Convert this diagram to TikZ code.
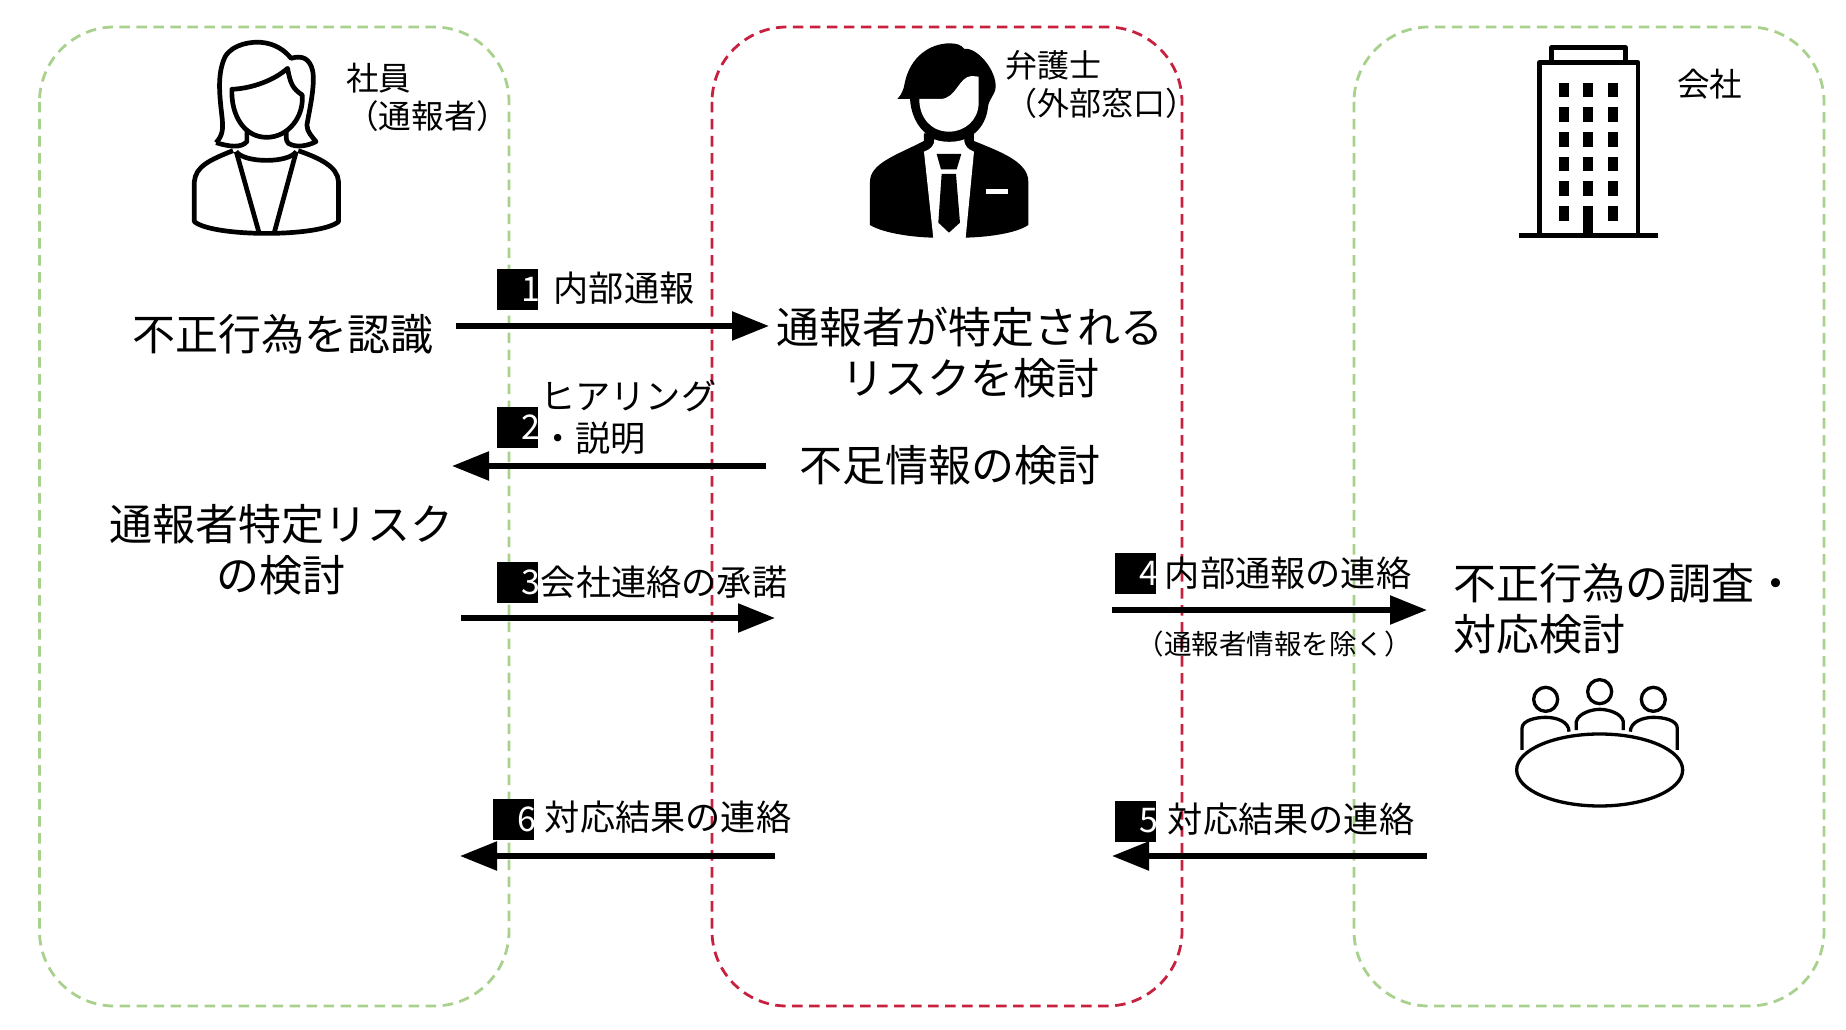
\documentclass[tikz,border=0pt]{standalone}
\usepackage{fontspec}
\setmainfont{Noto Sans CJK JP}
\usetikzlibrary{arrows.meta,positioning}
\definecolor{lanegreen}{HTML}{A9D18E}
\definecolor{lanered}{HTML}{C8203F}

\begin{document}
\begin{tikzpicture}[x=1pt,y=-1pt]

  \tikzstyle{lane} = [line width=2.8pt,dash pattern=on 10.5pt off 6.5pt,rounded corners=75pt]
  \tikzstyle{bigtxt} = [inner sep=0,align=center,font=\fontsize{43}{51}\selectfont]
  \tikzstyle{midtxt} = [inner sep=0,align=center,font=\fontsize{35.2}{42}\selectfont]
  \tikzstyle{whotxt} = [inner sep=0,anchor=west,align=left,font=\fontsize{32.6}{38}\selectfont]
  \tikzstyle{tagbox} = [fill=black,text=white,minimum width=41,minimum height=41,inner sep=0,text width=41pt,align=right,font=\fontsize{34}{40}\selectfont]
  \tikzstyle{flow} = [line width=5.5pt,-{Triangle[length=37pt,width=28pt]}]
  \tikzstyle{icon} = [line width=4.7pt,line join=round]

  \useasboundingbox (0,0) rectangle (1846,1030);

  \draw[lane,lanegreen] (39.5,27) rectangle (509,1006);
  \draw[lane,lanered] (712,27) rectangle (1182,1006);
  \draw[lane,lanegreen] (1354,27) rectangle (1824,1006);

  % woman
  \begin{scope}[x=0.395pt,y=-0.3333pt,icon]
    \draw (547,428) .. controls (565,405) and (565,385) .. (562,350) .. controls (555,280) and (550,220) .. (570,170) .. controls (590,130) and (640,125) .. (660,127) .. controls (695,130) and (720,150) .. (737,175) .. controls (765,165) and (785,175) .. (792,215) .. controls (797,260) and (785,320) .. (777,375) .. controls (777,395) and (790,410) .. (800,425) .. controls (780,437) and (750,445) .. (730,430) .. controls (722,420) and (725,405) .. (725,395);
    \draw (547,428) .. controls (580,440) and (610,445) .. (625,425) -- (625,393);
    \draw (587,268) .. controls (640,265) and (695,240) .. (728,205) .. controls (735,250) and (740,265) .. (765,285) .. controls (770,350) and (730,412) .. (675,412) .. controls (620,412) and (585,350) .. (587,268) -- cycle;
    \draw (590,452) .. controls (530,480) and (495,500) .. (492,545) -- (492,665) .. controls (540,712) and (810,712) .. (857,665) -- (857,545) .. controls (855,500) and (810,475) .. (755,452);
    \draw (598,455) .. controls (620,490) and (730,490) .. (750,455);
    \draw (598,455) -- (655,695);
    \draw (750,455) -- (695,695);
  \end{scope}

  % lawyer
  \begin{scope}[shift={(700,0)},x=0.3333pt,y=-0.3333pt]
    \fill (510,545) .. controls (510,490) and (590,465) .. (672,423) -- (672,400) -- (822,400) -- (822,423) .. controls (900,455) and (985,485) .. (985,545) -- (985,675) .. controls (950,700) and (860,712) .. (795,713) -- (700,713) .. controls (640,712) and (550,700) .. (510,675) -- cycle;
    \fill (592,297) .. controls (605,285) and (612,265) .. (614,250) .. controls (630,170) and (690,130) .. (750,130) .. controls (770,130) and (785,135) .. (793,147) .. controls (830,140) and (890,210) .. (887,262) .. controls (885,285) and (868,295) .. (864,320) .. controls (860,370) and (825,425) .. (747,425) .. controls (680,425) and (635,370) .. (630,297) -- cycle;
    \fill[white] (658,297) -- (720,297) .. controls (770,297) and (775,230) .. (815,228) -- (836,230) -- (836,310) .. controls (835,360) and (795,395) .. (747,395) .. controls (695,395) and (658,355) .. (658,297) -- cycle;
    \fill[white] (703,418) .. controls (725,428) and (770,428) .. (793,418) .. controls (793,440) and (805,448) .. (822,455) -- (797,714) -- (700,714) -- (672,455) .. controls (690,448) and (703,440) .. (703,418) -- cycle;
    \fill (710,462) -- (784,462) -- (770,508) -- (723,508) -- cycle;
    \fill (725,522) -- (768,522) -- (780,668) -- (747,698) -- (715,668) -- cycle;
    \fill[white] (858,566) rectangle (925,582);
  \end{scope}

  % building
  \begin{scope}[shift={(1340,0)},x=0.3333pt,y=-0.3333pt,icon]
    \draw (634,188) -- (634,143) -- (857,143) -- (857,188);
    \draw (598,706) -- (598,188) -- (894,188) -- (894,706);
    \draw (538,706) -- (953,706);
    \foreach \wx in {672,745,819} {
      \foreach \wy in {270,344,418,492,566,640} {
        \fill (\wx-15,\wy-22) rectangle (\wx+15,\wy+22);
      }
    }
    \fill (730,640) rectangle (760,706);
  \end{scope}

  % meeting
  \begin{scope}[shift={(1480,660)},x=0.3333pt,y=-0.3333pt,line width=3.3pt]
    \draw (197,118) circle [radius=12pt];
    \draw (359,95) circle [radius=12pt];
    \draw (520,118) circle [radius=12pt];
    \draw (126,270) -- (126,205) .. controls (126,180) and (170,172) .. (197,172) .. controls (230,172) and (267,185) .. (267,215);
    \draw (289,210) -- (289,185) .. controls (295,160) and (335,148) .. (359,148) .. controls (385,148) and (425,160) .. (430,185) -- (430,210);
    \draw (451,215) .. controls (451,185) and (490,172) .. (520,172) .. controls (550,172) and (592,180) .. (592,205) -- (592,270);
    \draw (359,330) ellipse [x radius=83pt,y radius=36pt];
  \end{scope}

  \node[whotxt] (who1) at (346,97) {社員\\（通報者）};
  \node[whotxt,font=\fontsize{32}{38}\selectfont] (who2) at (1005,85) {弁護士\\（外部窓口）};
  \node[whotxt] (who3) at (1677,84) {会社};

  \node[bigtxt] (recognize) at (283,334) {不正行為を認識};
  \node[bigtxt] (riskB) at (970,353) {通報者が特定される\\リスクを検討};
  \node[bigtxt] (lack) at (950,465) {不足情報の検討};
  \node[bigtxt] (riskA) at (281,550) {通報者特定リスク\\の検討};
  \node[bigtxt,anchor=west,align=left] (survey) at (1453,609) {不正行為の調査・\\対応検討};

  \foreach \n/\x/\y in {1/517/289,2/517/427,3/517/582,4/1135/573,5/1135/821,6/513/819} {
    \node[tagbox] (tag\n) at (\x,\y) {\n\kern-3pt};
  }

  \node[midtxt] (msg1) at (624,288) {内部通報};
  \node[midtxt,anchor=west,align=left] (msg2) at (540,417) {ヒアリング\\・説明};
  \node[midtxt] (msg3) at (664,582) {会社連絡の承諾};
  \node[midtxt] (msg4) at (1288,573) {内部通報の連絡};
  \node[inner sep=0,font=\fontsize{27.5}{32}\selectfont] (msg4b) at (1274,644) {（通報者情報を除く）};
  \node[midtxt] (msg5) at (1291,819) {対応結果の連絡};
  \node[midtxt] (msg6) at (668,817) {対応結果の連絡};

  \coordinate (a1s) at (456,326);
  \coordinate (a1e) at (769,326);
  \coordinate (a2s) at (766,466);
  \coordinate (a2e) at (452,466);
  \coordinate (a3s) at (461,618);
  \coordinate (a3e) at (775,618);
  \coordinate (a4s) at (1112,610);
  \coordinate (a4e) at (1427,610);
  \coordinate (a5s) at (1427,856);
  \coordinate (a5e) at (1112,856);
  \coordinate (a6s) at (775,856);
  \coordinate (a6e) at (460,856);

  \foreach \n in {1,...,6} {
    \draw[flow] (a\n s) -- (a\n e);
  }

\end{tikzpicture}
\end{document}
